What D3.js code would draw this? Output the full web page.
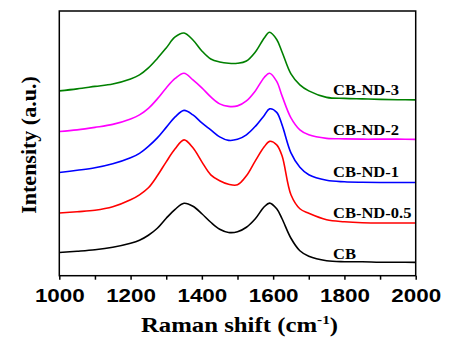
<!DOCTYPE html>
<html>
<head>
<meta charset="utf-8">
<script src="https://cdn.jsdelivr.net/npm/d3@7"></script>
<style>
  body { margin: 0; background: #fff; }
  svg { display: block; }
</style>
</head>
<body>
<svg id="chart" width="449" height="337"></svg>
<script>
// Raman shift grid (cm-1)
const shift = [1000, 1050, 1100, 1150, 1200, 1225, 1250, 1275, 1300, 1325, 1350, 1375, 1400, 1425, 1450,
  1475, 1500, 1525, 1550, 1575, 1590, 1610, 1625, 1650, 1675, 1700, 1750, 1800, 1850, 1900, 1950, 2000];

// intensities (a.u., curves already offset like the figure)
const cb = [23.3, 24.5, 26, 28.5, 32.5, 35.5, 40.5, 47.5, 57.5, 66.5, 72.5, 69.5, 62, 53.5, 46.5,
  43.3, 44, 48.5, 57, 69, 72.7, 67, 57, 37.5, 25, 19.5, 15, 14, 14, 13.5, 13.5, 13.3];
const cbNd05 = [62.7, 64, 65.5, 69, 76, 81, 88, 100, 114, 127, 136, 128, 114, 101, 95,
  91.5, 91, 100, 115, 129, 134.5, 131, 120, 81, 67, 62.5, 56, 54, 53, 52.8, 52.7, 52.7];
const cbNd1 = [103.3, 105.5, 108, 112, 118, 122.5, 129.5, 138, 148.5, 159, 165.5, 161, 153, 146, 139,
  135.5, 136.5, 141, 149.5, 160.5, 167, 163.5, 151, 123, 108.5, 101, 95.5, 94, 93.5, 93.3, 93.3, 93.3];
const cbNd2 = [144.3, 146, 148.5, 151.5, 157, 161, 167.5, 177, 188, 197.5, 202.7, 196, 188, 179, 172,
  169.5, 170, 175, 185, 198.5, 202.7, 194.5, 180, 158, 146, 141, 137.5, 137, 136.7, 136.7, 136.7, 136.5];
const cbNd3 = [185, 187, 189.5, 192, 197, 201, 208, 217.5, 228, 239, 243, 236, 225, 217, 214,
  212.7, 212.7, 215, 224, 238, 243.7, 236.5, 224, 202, 191, 185, 178.5, 177.5, 177, 176.5, 176.2, 176];

const seriesNames = ['CB', 'CB-ND-0.5', 'CB-ND-1', 'CB-ND-2', 'CB-ND-3'];
const seriesColors = ['#000000', '#ff0000', '#0000ff', '#ff00ff', '#008000'];
const seriesValues = [cb, cbNd05, cbNd1, cbNd2, cbNd3];
// where each label sits: [shift, intensity]
const labelPos = [[1768, 17], [1768, 58], [1768, 98.5], [1768, 141], [1768, 181]];
const xTicks = [1000, 1200, 1400, 1600, 1800, 2000];
const xMinorTicks = [1100, 1300, 1500, 1700, 1900];

const margin = {left: 59.3, right: 33.3, top: 11, bottom: 61.3};
const width = 449 - margin.left - margin.right;
const height = 337 - margin.top - margin.bottom;
const stretch = 1.18; // text in the figure is a bit wide

const svg = d3.select('#chart');
const g = svg.append('g').attr('transform', 'translate(' + margin.left + ',' + margin.top + ')');

const x = d3.scaleLinear().domain([1000, 2000]).range([0, width]);
const y = d3.scaleLinear().domain([0, 265]).range([height, 0]);

const line = d3.line()
  .x(function (d) { return x(d[0]); })
  .y(function (d) { return y(d[1]); })
  .curve(d3.curveCatmullRom.alpha(0.5));

seriesValues.forEach(function (vals, i) {
  const pts = shift.map(function (s, k) { return [s, vals[k]]; });
  g.append('path')
    .datum(pts)
    .attr('d', line)
    .attr('fill', 'none')
    .attr('stroke', seriesColors[i])
    .attr('stroke-width', 1.6)
    .attr('stroke-linejoin', 'round');
});

// labels
seriesNames.forEach(function (name, i) {
  g.append('text')
    .attr('transform', 'translate(' + x(labelPos[i][0]) + ',' + y(labelPos[i][1]) + ') scale(' + stretch + ',1)')
    .attr('font-family', '"Liberation Serif", "Times New Roman", serif')
    .attr('font-weight', 'bold')
    .attr('font-size', 14)
    .attr('fill', '#000')
    .text(name);
});

// frame
g.append('rect')
  .attr('width', width).attr('height', height)
  .attr('fill', 'none').attr('stroke', '#000').attr('stroke-width', 1.5);

// bottom axis
const xAxis = d3.axisBottom(x).tickValues(xTicks).tickSize(4).tickFormat(d3.format('d'));
const xAxisBlock = g.append('g').attr('transform', 'translate(0,' + height + ')').call(xAxis);
xAxisBlock.select('.domain').remove();
xAxisBlock.selectAll('line').attr('stroke-width', 1.5);
xAxisBlock.selectAll('text')
  .attr('font-family', '"Liberation Sans", Arial, sans-serif')
  .attr('font-weight', 'bold')
  .attr('font-size', 19)
  .attr('fill', '#000')
  .attr('y', 0).attr('dy', 0)
  .attr('transform', 'translate(0,26.5) scale(' + stretch + ',1)');
g.append('g').attr('transform', 'translate(0,' + height + ')')
  .call(d3.axisBottom(x).tickValues(xMinorTicks).tickSize(4).tickFormat(''))
  .call(function (a) { a.select('.domain').remove(); a.selectAll('line').attr('stroke-width', 1.5); });

// axis titles
const xTitle = svg.append('text')
  .attr('transform', 'translate(' + (margin.left + width / 2 + 2) + ',332) scale(' + stretch + ',1)')
  .attr('text-anchor', 'middle')
  .attr('font-family', '"Liberation Serif", "Times New Roman", serif')
  .attr('font-weight', 'bold')
  .attr('font-size', 21)
  .attr('fill', '#000');
xTitle.append('tspan').text('Raman shift (cm');
xTitle.append('tspan').attr('font-size', 13).attr('dy', -8).text('-1');
xTitle.append('tspan').attr('dy', 8).text(')');

svg.append('text')
  .attr('transform', 'translate(36,145) rotate(-90)')
  .attr('text-anchor', 'middle')
  .attr('font-family', '"Liberation Serif", "Times New Roman", serif')
  .attr('font-weight', 'bold')
  .attr('font-size', 22)
  .attr('fill', '#000')
  .text('Intensity (a.u.)');
</script>
</body>
</html>
